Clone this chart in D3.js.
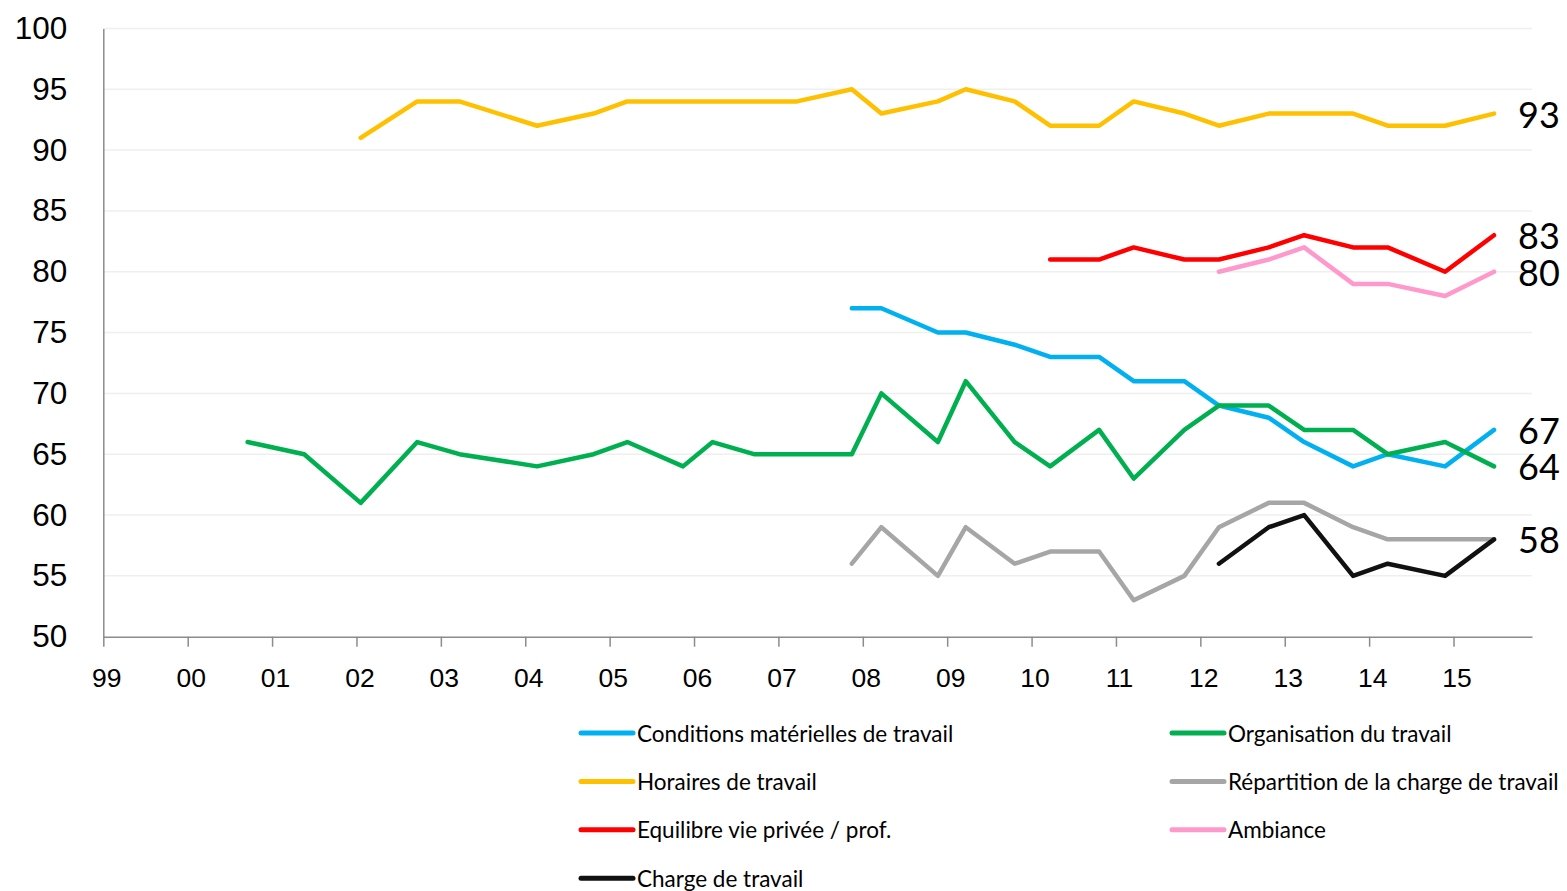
<!DOCTYPE html>
<html>
<head>
<meta charset="utf-8">
<script src="https://d3js.org/d3.v7.min.js"></script>
<style>
	body { margin: 0; background: #fff; }
	svg { display: block; font-family: "Lato", "Open Sans", sans-serif; }
</style>
</head>
<body>
<svg width="1567" height="891"></svg>
<script>
// survey waves, as decimal years
var waves = [2000.71, 2001.38, 2002.05, 2002.72, 2003.22, 2004.14, 2004.81, 2005.21, 2005.87, 2006.22,
	2006.71, 2007.22, 2007.87, 2008.22, 2008.89, 2009.22, 2009.80, 2010.22, 2010.80, 2011.21,
	2011.81, 2012.22, 2012.81, 2013.23, 2013.81, 2014.22, 2014.90, 2015.48];

var conditions = [null, null, null, null, null, null, null, null, null, null, null, null,
	77, 77, 75, 75, 74, 73, 73, 71, 71, 69, 68, 66, 64, 65, 64, 67];
var organisation = [66, 65, 61, 66, 65, 64, 65, 66, 64, 66, 65, 65,
	65, 70, 66, 71, 66, 64, 67, 63, 67, 69, 69, 67, 67, 65, 66, 64];
var horaires = [null, null, 91, 94, 94, 92, 93, 94, 94, 94, 94, 94,
	95, 93, 94, 95, 94, 92, 92, 94, 93, 92, 93, 93, 93, 92, 92, 93];
var repartition = [null, null, null, null, null, null, null, null, null, null, null, null,
	56, 59, 55, 59, 56, 57, 57, 53, 55, 59, 61, 61, 59, 58, 58, 58];
var equilibre = [null, null, null, null, null, null, null, null, null, null, null, null,
	null, null, null, null, null, 81, 81, 82, 81, 81, 82, 83, 82, 82, 80, 83];
var ambiance = [null, null, null, null, null, null, null, null, null, null, null, null,
	null, null, null, null, null, null, null, null, null, 80, 81, 82, 79, 79, 78, 80];
var charge = [null, null, null, null, null, null, null, null, null, null, null, null,
	null, null, null, null, null, null, null, null, null, 56, 59, 60, 55, 56, 55, 58];

var seriesNames = ["Conditions matérielles de travail", "Organisation du travail", "Horaires de travail",
	"Répartition de la charge de travail", "Equilibre vie privée / prof.", "Ambiance", "Charge de travail"];
var seriesColors = ["#00b0f0", "#00b050", "#ffc000", "#a6a6a6", "#ff0000", "#ff99cc", "#111111"];
var seriesValues = [conditions, organisation, horaires, repartition, equilibre, ambiance, charge];

var xTicks = d3.range(1999, 2016);
var yTicks = d3.range(50, 101, 5);

function paint_chart(){
	var svg = d3.select("svg");
	var left = 103.3, right = 1532, top = 28.4, bottom = 636.7;

	svg.append("rect").attr("width", 1567).attr("height", 891).attr("fill", "#fff");

	var xScale = d3.scaleLinear().domain([1999, 2015.93]).range([left, right]),
			yScale = d3.scaleLinear().domain([50, 100]).range([bottom, top]);

	// gridlines
	svg.append("g")
	 .selectAll("line")
	 .data(yTicks.slice(1))
	 .enter().append("line")
	 .attr("x1", left)
	 .attr("x2", right)
	 .attr("y1", function(d) { return yScale(d); })
	 .attr("y2", function(d) { return yScale(d); })
	 .attr("stroke", "#efefef")
	 .attr("stroke-width", 1.5);

	var yAxis = svg.append("g")
	 .attr("transform", "translate(" + left + ",0)")
	 .call(d3.axisLeft(yScale).tickValues(yTicks).tickSizeInner(0).tickSizeOuter(0).tickPadding(36));
	yAxis.select(".domain").attr("stroke", "#8c8c8c").attr("stroke-width", 1.5);
	yAxis.selectAll("text").attr("font-size", "31.5px").attr("fill", "#000").attr("font-family", null);

	var xAxis = svg.append("g")
	 .attr("transform", "translate(0," + bottom + ")")
	 .call(d3.axisBottom(xScale).tickValues(xTicks).tickSizeInner(10).tickSizeOuter(0)
		 .tickFormat(function(d){ return d3.format("02")(d % 100); }));
	xAxis.select(".domain").attr("stroke", "#8c8c8c").attr("stroke-width", 1.5);
	xAxis.selectAll(".tick line").attr("stroke", "#8c8c8c").attr("stroke-width", 1.5);
	xAxis.selectAll("text")
	 .attr("font-size", "26.5px")
	 .attr("fill", "#000")
	 .attr("font-family", null)
	 .attr("x", 3)
	 .attr("y", 31);

	var line = d3.line()
	 .defined(function(d) { return d[1] !== null; })
	 .x(function(d) { return xScale(d[0]); })
	 .y(function(d) { return yScale(d[1]); });

	seriesValues.forEach(function(vals, i) {
		var pts = waves.map(function(w, j) { return [w, vals[j]]; });
		svg.append("path")
		 .datum(pts)
		 .attr("d", line)
		 .attr("fill", "none")
		 .attr("stroke", seriesColors[i])
		 .attr("stroke-width", 4.5)
		 .attr("stroke-linejoin", "round")
		 .attr("stroke-linecap", "round");
	});

	// last values at the right end
	var endLabels = [horaires, equilibre, ambiance, conditions, organisation, charge];
	svg.append("g")
	 .selectAll("text")
	 .data(endLabels)
	 .enter().append("text")
	 .attr("x", 1518)
	 .attr("y", function(d) { return yScale(d[d.length - 1]); })
	 .attr("dominant-baseline", "central")
	 .attr("font-size", "36px")
	 .attr("fill", "#000")
	 .text(function(d) { return d[d.length - 1]; });

	// legend, two columns
	var legend = svg.append("g")
	 .selectAll("g")
	 .data(seriesNames)
	 .enter().append("g")
	 .attr("transform", function(d, i) {
		 return "translate(" + (i % 2 === 0 ? 579 : 1170) + "," + (733 + Math.floor(i / 2) * 48.4) + ")";
	 });
	legend.append("line")
	 .attr("x1", 2)
	 .attr("x2", 54)
	 .attr("stroke", function(d, i) { return seriesColors[i]; })
	 .attr("stroke-width", 5)
	 .attr("stroke-linecap", "round");
	legend.append("text")
	 .attr("x", 58)
	 .attr("dominant-baseline", "central")
	 .attr("font-size", "22.5px")
	 .attr("fill", "#000")
	 .text(function(d) { return d; });
}

paint_chart();
</script>
</body>
</html>
